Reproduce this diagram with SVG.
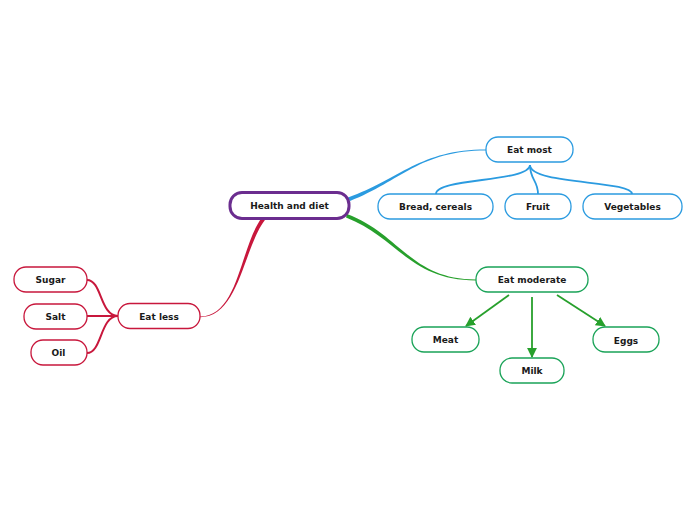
<svg xmlns="http://www.w3.org/2000/svg" width="696" height="520" viewBox="0 0 696 520">
<style>
text{font-family:"DejaVu Sans","Liberation Sans",sans-serif;font-weight:bold;font-size:9px;fill:#1a1a1a;text-anchor:middle;dominant-baseline:central}
.b rect{fill:#fff;stroke:#2b9be0;stroke-width:1.3}
.g rect{fill:#fff;stroke:#1aa358;stroke-width:1.3}
.r rect{fill:#fff;stroke:#c8173c;stroke-width:1.3}
.bl{fill:none;stroke:#2b9be0;stroke-width:1.8}
.gl{fill:none;stroke:#27a02c;stroke-width:1.8}
.rl{fill:none;stroke:#c8173c;stroke-width:2}
</style>
<defs>
<marker id="ga" viewBox="0 0 10 10" refX="9" refY="5" markerWidth="5.5" markerHeight="5.5" orient="auto"><path d="M0,0 L10,5 L0,10 Z" fill="#27a02c"/></marker>
</defs>
<rect width="696" height="520" fill="#fff"/>
<g id="connectors">
<path d="M348,197.5 C400,179 420,149.5 486,149.5 L486,150.5 C420,150.5 401,181 350,201 Z" fill="#2b9be0"/>
<path d="M347,214 C400,234 411,279.5 476,279.5 L476,280.4 C410,280.5 397,237 346,217.5 Z" fill="#27a02c"/>
<path d="M262,217.5 C240,246 239,316.5 200,316.5 L200,317.2 C240,317 243,247 266,218.5 Z" fill="#c8173c"/>
<path class="bl" d="M530,165 C530,182 436,178 436,194"/>
<path class="bl" d="M530,165 C530,180 538,180 538,194"/>
<path class="bl" d="M530,165 C530,185 632,180 632,194"/>
<path class="gl" d="M509,295 L466,326" marker-end="url(#ga)"/>
<path class="gl" d="M532,297 L532,357" marker-end="url(#ga)"/>
<path class="gl" d="M557,295 L605,326" marker-end="url(#ga)"/>
<path class="rl" d="M118,316 C100,316 102,280 87,280"/>
<path class="rl" d="M118,316 L87,316"/>
<path class="rl" d="M118,316 C100,316 102,353 87,353"/>
</g>
<g id="health"><rect x="230" y="192.5" width="119" height="26" rx="12" fill="#fff" stroke="#6b2d8f" stroke-width="3"/><text x="289.5" y="206">Health and diet</text></g>
<g id="eatmost" class="b"><rect x="486" y="137" width="87" height="25" rx="12"/><text x="529.5" y="150">Eat most</text></g>
<g id="bread" class="b"><rect x="378" y="194" width="115" height="25" rx="12"/><text x="435.5" y="207">Bread, cereals</text></g>
<g id="fruit" class="b"><rect x="505" y="194" width="66" height="25" rx="12"/><text x="538" y="207">Fruit</text></g>
<g id="veg" class="b"><rect x="583" y="194" width="99" height="25" rx="12"/><text x="632.5" y="207">Vegetables</text></g>
<g id="eatmoderate" class="g"><rect x="476" y="267" width="112" height="25" rx="12"/><text x="532" y="280">Eat moderate</text></g>
<g id="meat" class="g"><rect x="412" y="327" width="67" height="25" rx="12"/><text x="445.5" y="340">Meat</text></g>
<g id="milk" class="g"><rect x="500" y="358" width="64" height="25" rx="12"/><text x="532" y="371">Milk</text></g>
<g id="eggs" class="g"><rect x="593" y="327" width="66" height="25" rx="12"/><text x="626" y="341">Eggs</text></g>
<g id="eatless" class="r"><rect x="118" y="303.5" width="82" height="25" rx="12"/><text x="159" y="317">Eat less</text></g>
<g id="sugar" class="r"><rect x="14" y="267" width="73" height="25" rx="12"/><text x="50.5" y="280">Sugar</text></g>
<g id="salt" class="r"><rect x="24" y="304" width="63" height="25" rx="12"/><text x="55.5" y="317">Salt</text></g>
<g id="oil" class="r"><rect x="31" y="340" width="56" height="25" rx="12"/><text x="58.5" y="353">Oil</text></g>
</svg>
